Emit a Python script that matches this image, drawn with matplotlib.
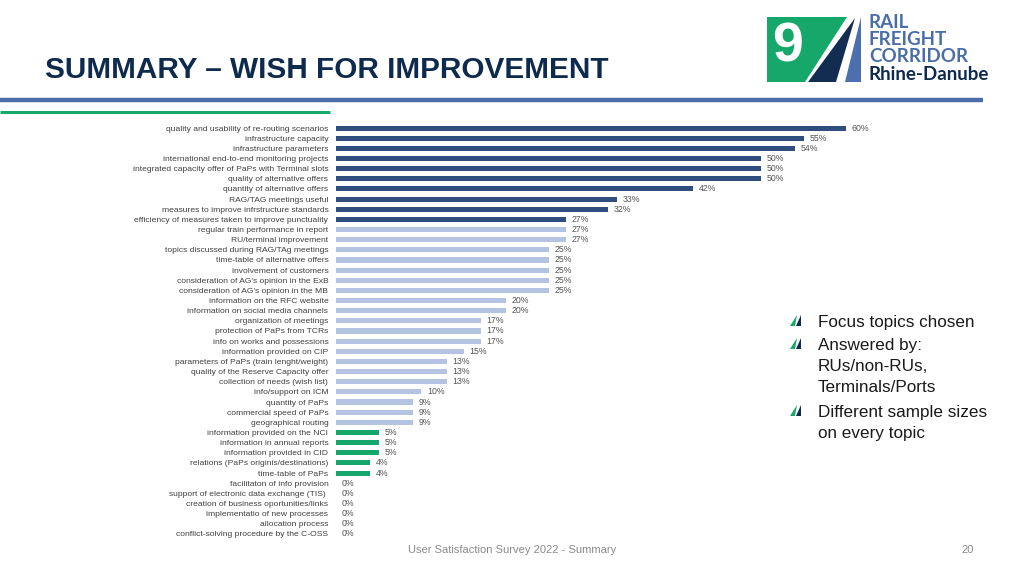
import matplotlib.pyplot as plt
from matplotlib.patches import Polygon

plt.rcParams['font.family'] = ['Liberation Sans', 'DejaVu Sans']

topics = [
    "quality and usability of re-routing scenarios",
    "infrastructure capacity",
    "infrastructure parameters",
    "international end-to-end monitoring projects",
    "integrated capacity offer of PaPs with Terminal slots",
    "quality of alternative offers",
    "quantity of alternative offers",
    "RAG/TAG meetings useful",
    "measures to improve infrstructure standards",
    "efficiency of measures taken to improve punctuality",
    "regular train performance in report",
    "RU/terminal improvement",
    "topics discussed during RAG/TAg meetings",
    "time-table of alternative offers",
    "involvement of customers",
    "consideration of AG's opinion in the ExB",
    "consideration of AG's opinion in the MB",
    "information on the RFC website",
    "information on social media channels",
    "organization of meetings",
    "protection of PaPs from TCRs",
    "info on works and possessions",
    "information provided on CIP",
    "parameters of PaPs (train lenght/weight)",
    "quality of the Reserve Capacity offer",
    "collection of needs (wish list)",
    "info/support on ICM",
    "quantity of PaPs",
    "commercial speed of PaPs",
    "geographical routing",
    "information provided on the NCI",
    "information in annual reports",
    "information provided in CID",
    "relations (PaPs originis/destinations)",
    "time-table of PaPs",
    "facilitaton of info provision",
    "support of electronic data exchange (TIS) ",
    "creation of business oportunities/links",
    "implementatio of new processes",
    "allocation process",
    "conflict-solving procedure by the C-OSS",
]
shares = [60, 55, 54, 50, 50, 50, 42, 33, 32, 27, 27, 27, 25, 25, 25, 25, 25,
          20, 20, 17, 17, 17, 15, 13, 13, 13, 10, 9, 9, 9, 5, 5, 5, 4, 4,
          0, 0, 0, 0, 0, 0]
# group: 0 = top tier (dark), 1 = middle (light), 2 = low (green)
groups = [0] * 10 + [1] * 20 + [2] * 11

bullets = ["Focus topics chosen", "Answered by:\nRUs/non-RUs,\nTerminals/Ports",
           "Different sample sizes\non every topic"]

NAVY = '#0e2a4d'
BLUE = '#4a6ea8'
GREEN = '#17a86c'
group_colors = ['#2f4e7e', '#b3c3e1', '#14a66a']

fig = plt.figure(figsize=(10.24, 5.76), dpi=100)

# slide decoration in pixel coordinates
deco = fig.add_axes([0, 0, 1, 1])
deco.set_xlim(0, 1024)
deco.set_ylim(576, 0)
deco.axis('off')

deco.text(45, 70, "SUMMARY \u2013 WISH FOR IMPROVEMENT", fontsize=21.4,
          fontweight='bold', color=NAVY, va='center', ha='left')
deco.plot([0, 983], [100, 100], color=BLUE, lw=3.2, solid_capstyle='butt')
deco.plot([0, 330], [111.5, 111.5], color=GREEN, lw=2.2, solid_capstyle='butt')

# logo
deco.add_patch(Polygon([(767, 17), (847, 17), (805, 82), (767, 82)],
                       closed=True, color='#16a86a', lw=0))
deco.add_patch(Polygon([(855, 18), (808, 82), (836, 82)],
                       closed=True, color='#132d52', lw=0))
deco.add_patch(Polygon([(861, 17), (845, 82), (861, 82)],
                       closed=True, color='#4c70ae', lw=0))
deco.text(787, 47, "9", fontsize=40, fontweight='bold', color='white',
          ha='center', va='center')
logo_font = ['Lato', 'DejaVu Sans']
for y, word in zip([22.5, 39.5, 57], ["RAIL", "FREIGHT", "CORRIDOR"]):
    deco.text(869, y, word, fontsize=13.5, fontweight='bold',
              color=BLUE, va='center', ha='left', family=logo_font)
deco.text(869, 75, "Rhine-Danube", fontsize=13.5, fontweight='bold',
          color=NAVY, va='center', ha='left', family=logo_font)

# bullets on the right
bullet_y = [321, 344, 411]
for y, txt in zip(bullet_y, bullets):
    deco.add_patch(Polygon([(790, y + 5), (797, y - 6), (795, y + 5)],
                           closed=True, color=GREEN, lw=0))
    deco.add_patch(Polygon([(796, y + 5), (801, y - 6), (801, y + 5)],
                           closed=True, color=NAVY, lw=0))
    deco.text(818, y - 6, txt, fontsize=12.3, color='#1a1a1a', va='top',
              ha='left', linespacing=1.52)

# footer
deco.text(512, 550, "User Satisfaction Survey 2022 - Summary", fontsize=8,
          color='#8a8a8a', ha='center', va='center')
deco.text(968, 550, "20", fontsize=8, color='#8a8a8a', ha='center',
          va='center')

# bar chart
ax = fig.add_axes([336 / 1024, 1 - 539 / 576, 595 / 1024, 416 / 576])
ax.patch.set_alpha(0)
ypos = list(range(len(topics)))
colors = [group_colors[g] for g in groups]
ax.barh(ypos, shares, height=0.5, color=colors)
for y, v in zip(ypos, shares):
    ax.annotate(f"{v}%", (v, y), xytext=(4.3, 0), textcoords='offset points',
                va='center', ha='left', fontsize=6.3, color='#555555')
ax.set_xlim(0, 70)
ax.set_ylim(len(topics) - 0.5, -0.5)
ax.set_yticks(ypos)
ax.set_yticklabels(topics, fontsize=6.1, color='#404040')
ax.tick_params(axis='y', length=0, pad=5.5)
ax.set_xticks([])
for s in ax.spines.values():
    s.set_visible(False)

fig.savefig('out.png', dpi=100)
